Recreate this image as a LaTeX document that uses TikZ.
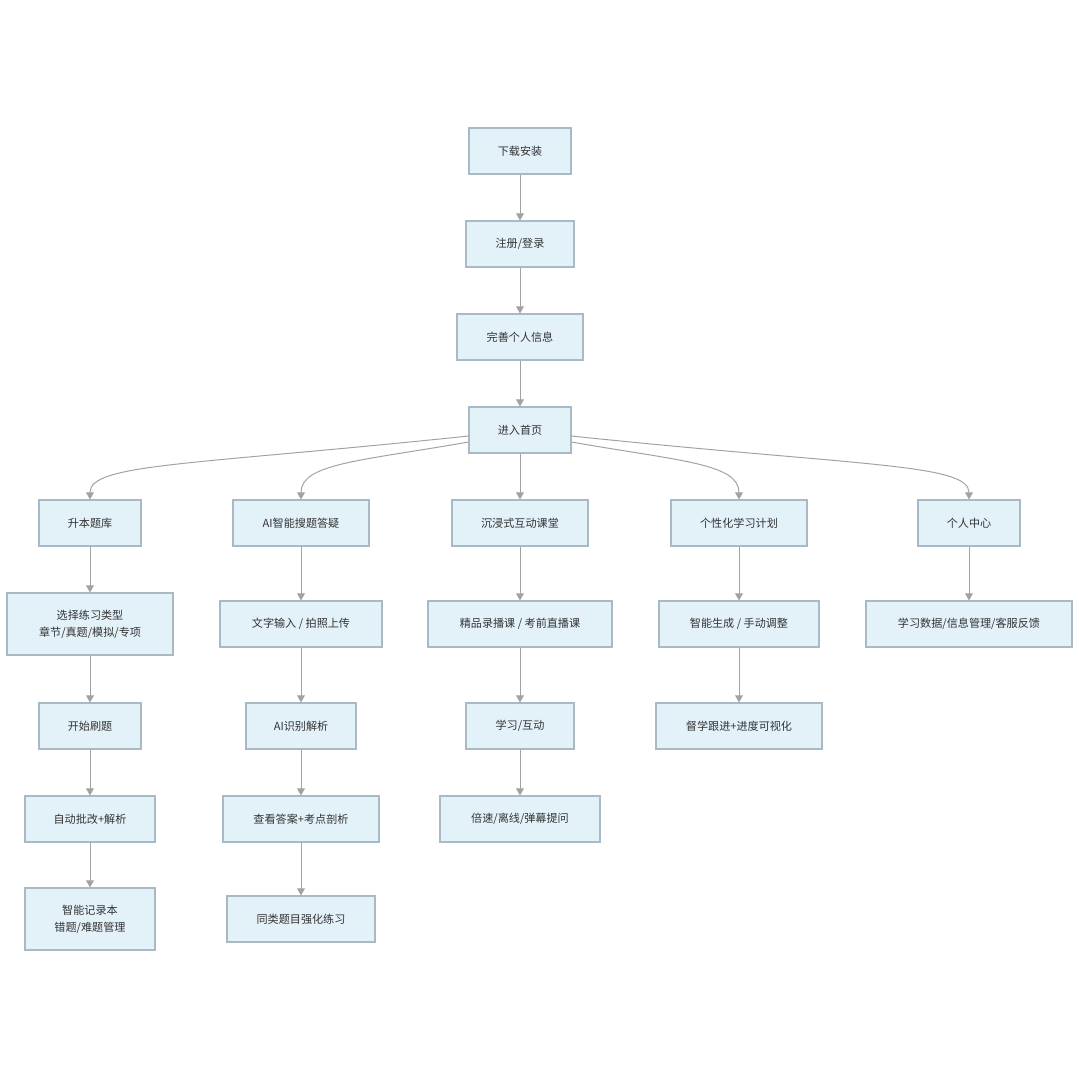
\documentclass[tikz,border=0pt]{standalone}
\usepackage{fontspec}
\newfontfamily\cjk{Noto Sans CJK SC}
\usetikzlibrary{arrows.meta}
\definecolor{boxfill}{HTML}{E3F2F9}
\definecolor{boxline}{HTML}{A8BAC3}
\definecolor{edgegray}{HTML}{A2A2A2}
\definecolor{txtgray}{HTML}{333333}
\tikzset{
    box/.style={draw=boxline, line width=0.8pt, fill=boxfill, text=txtgray,
        minimum width=#1, minimum height=1.15cm, inner sep=0pt, align=center,
        font=\cjk\fontsize{7.9pt}{12pt}\selectfont},
    tallbox/.style={box=#1, minimum height=1.55cm},
    flow/.style={draw=edgegray, line width=0.7pt,
        -{Triangle[width=5.5pt,length=5pt]}}
}
\begin{document}
\begin{tikzpicture}[x=0.025cm, y=0.025cm]
    \useasboundingbox [fill=white] (0,0) rectangle (1080,-1080);
    % main line
    \node [box=2.55cm] (dl) at (520,-151) {下载安装};
    \node [box=2.7cm] (reg) at (520,-244) {注册/登录};
    \node [box=3.15cm] (info) at (520,-337) {完善个人信息};
    \node [box=2.55cm] (home) at (520,-430) {进入首页};
    % modules
    \node [box=2.55cm] (bank) at (90,-523) {升本题库};
    \node [box=3.4cm] (ai) at (301,-523) {AI智能搜题答疑};
    \node [box=3.4cm] (class) at (520,-523) {沉浸式互动课堂};
    \node [box=3.4cm] (plan) at (739,-523) {个性化学习计划};
    \node [box=2.55cm] (me) at (969,-523) {个人中心};
    % question bank
    \node [tallbox=4.15cm] (type) at (90,-624) {选择练习类型\\章节/真题/模拟/专项};
    \node [box=2.55cm] (start) at (90,-726) {开始刷题};
    \node [box=3.25cm] (correct) at (90,-819) {自动批改+解析};
    \node [tallbox=3.25cm] (note) at (90,-919) {智能记录本\\错题/难题管理};
    % ai search
    \node [box=4.05cm] (input) at (301,-624) {文字输入 / 拍照上传};
    \node [box=2.75cm] (parse) at (301,-726) {AI识别解析};
    \node [box=3.9cm] (answer) at (301,-819) {查看答案+考点剖析};
    \node [box=3.7cm] (similar) at (301,-919) {同类题目强化练习};
    % classroom
    \node [box=4.6cm] (course) at (520,-624) {精品录播课 / 考前直播课};
    \node [box=2.7cm] (learn) at (520,-726) {学习/互动};
    \node [box=4cm] (speed) at (520,-819) {倍速/离线/弹幕提问};
    % plan
    \node [box=4cm] (gen) at (739,-624) {智能生成 / 手动调整};
    \node [box=4.15cm] (watch) at (739,-726) {督学跟进+进度可视化};
    % personal center
    \node [box=5.15cm] (data) at (969,-624) {学习数据/信息管理/客服反馈};
    % arrows
    \draw [flow] (dl) -- (reg);
    \draw [flow] (reg) -- (info);
    \draw [flow] (info) -- (home);
    \draw [flow] ([yshift=-0.15cm]home.west) to [out=186, in=90, out distance=7cm, in distance=0.9cm] (bank);
    \draw [flow] ([yshift=-0.3cm]home.west) to [out=190, in=90, out distance=2.75cm, in distance=0.9cm] (ai);
    \draw [flow] (home) -- (class);
    \draw [flow] ([yshift=-0.3cm]home.east) to [out=-10, in=90, out distance=2.75cm, in distance=0.9cm] (plan);
    \draw [flow] ([yshift=-0.15cm]home.east) to [out=-6, in=90, out distance=7.25cm, in distance=0.9cm] (me);
    \draw [flow] (bank) -- (type);
    \draw [flow] (type) -- (start);
    \draw [flow] (start) -- (correct);
    \draw [flow] (correct) -- (note);
    \draw [flow] (ai) -- (input);
    \draw [flow] (input) -- (parse);
    \draw [flow] (parse) -- (answer);
    \draw [flow] (answer) -- (similar);
    \draw [flow] (class) -- (course);
    \draw [flow] (course) -- (learn);
    \draw [flow] (learn) -- (speed);
    \draw [flow] (plan) -- (gen);
    \draw [flow] (gen) -- (watch);
    \draw [flow] (me) -- (data);
\end{tikzpicture}
\end{document}
